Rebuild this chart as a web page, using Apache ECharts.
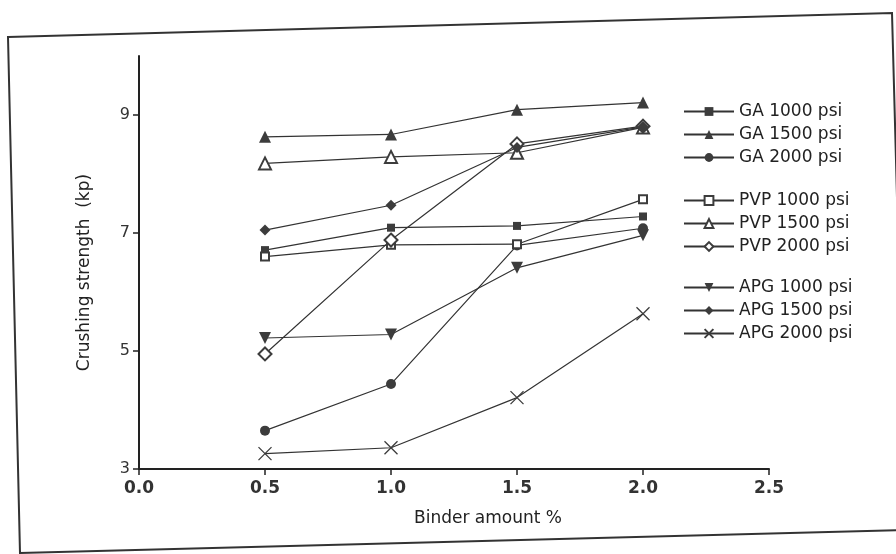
<!DOCTYPE html>
<html>
<head>
<meta charset="utf-8">
<script src="https://cdn.jsdelivr.net/npm/echarts@6/dist/echarts.min.js"></script>
<style>
html,body{margin:0;padding:0;background:#fff;}
#chart{width:896px;height:554px;}
</style>
</head>
<body>
<div id="chart"></div>
<script>
// Binder amount (%) on the x axis
const binder = [0.5, 1.0, 1.5, 2.0];
// Crushing strength (kp)
const ga1000  = [6.71, 7.09, 7.12, 7.28];
const ga1500  = [8.63, 8.67, 9.09, 9.21];
const ga2000  = [3.65, 4.44, 6.79, 7.08];
const pvp1000 = [6.60, 6.80, 6.81, 7.57];
const pvp1500 = [8.18, 8.29, 8.36, 8.79];
const pvp2000 = [4.95, 6.88, 8.51, 8.81];
const apg1000 = [5.22, 5.28, 6.41, 6.96];
const apg1500 = [7.05, 7.47, 8.45, 8.80];
const apg2000 = [3.26, 3.36, 4.21, 5.63];
const seriesNames = ['GA 1000 psi','GA 1500 psi','GA 2000 psi','PVP 1000 psi','PVP 1500 psi','PVP 2000 psi','APG 1000 psi','APG 1500 psi','APG 2000 psi'];
const yTickLabels = [3, 5, 7, 9];
const xTickLabels = [0, 0.5, 1.0, 1.5, 2.0, 2.5];

const values = [ga1000, ga1500, ga2000, pvp1000, pvp1500, pvp2000, apg1000, apg1500, apg2000];
const markers = [
  {symbol:'rect', size:8, rotate:0},
  {symbol:'triangle', size:12, rotate:0},
  {symbol:'circle', size:10, rotate:0},
  {symbol:'emptyRect', size:8, rotate:0},
  {symbol:'emptyTriangle', size:12, rotate:0},
  {symbol:'emptyDiamond', size:13, rotate:0},
  {symbol:'triangle', size:12, rotate:180},
  {symbol:'diamond', size:11, rotate:0},
  {symbol:'path://M0,0L10,10M10,0L0,10', size:13, rotate:0, cross:true}
];
const FONT = 'DejaVu Sans';
const INK = '#333';
const MARK = '#3c3c3c';

const series = seriesNames.map((name, i) => {
  const m = markers[i];
  return {
    name: name,
    type: 'line',
    data: binder.map((x, j) => [x, values[i][j]]),
    symbol: m.symbol,
    symbolSize: m.size,
    symbolRotate: m.rotate,
    showAllSymbol: true,
    lineStyle: {color: INK, width: 1.2},
    itemStyle: m.cross
      ? {color: 'rgba(0,0,0,0)', borderColor: MARK, borderWidth: 1.3}
      : {color: MARK, borderColor: MARK, borderWidth: m.symbol.indexOf('empty') === 0 ? 1.3 : 0},
    emphasis: {disabled: true},
    z: 3
  };
});

const legendBase = {
  orient: 'vertical',
  left: 683,
  padding: 0,
  itemWidth: 50,
  itemHeight: 11,
  itemGap: 6,
  selectedMode: false,
  textStyle: {fontFamily: FONT, fontSize: 17, color: '#222', lineHeight: 17}
};

const chart = echarts.init(document.getElementById('chart'), null, {renderer: 'canvas'});
chart.setOption({
  backgroundColor: '#fff',
  animation: false,
  grid: {left: 139, right: 127, top: 56, bottom: 85},
  legend: [
    Object.assign({}, legendBase, {top: 103, data: seriesNames.slice(0, 3)}),
    Object.assign({}, legendBase, {top: 192, data: seriesNames.slice(3, 6)}),
    Object.assign({}, legendBase, {top: 279, data: seriesNames.slice(6, 9)})
  ],
  xAxis: {
    type: 'value',
    min: 0, max: 2.5, interval: 0.5,
    name: 'Binder amount %',
    nameLocation: 'middle',
    nameGap: 41,
    nameTextStyle: {fontFamily: FONT, fontSize: 17, color: '#222', padding: [0, 0, 0, 68]},
    axisLine: {onZero: false, lineStyle: {color: '#222', width: 2}},
    axisTick: {show: true, inside: false, length: 6, lineStyle: {color: '#222', width: 1.5}, customValues: xTickLabels},
    axisLabel: {fontFamily: FONT, fontSize: 17, fontWeight: 'bold', color: '#333', margin: 11,
      customValues: xTickLabels, formatter: v => Number(v).toFixed(1)},
    splitLine: {show: false}
  },
  yAxis: {
    type: 'value',
    min: 3, max: 10, interval: 1,
    name: 'Crushing strength  (kp)',
    nameLocation: 'middle',
    nameGap: 46,
    nameTextStyle: {fontFamily: FONT, fontSize: 17, color: '#222', padding: [0, 20, 0, 0]},
    axisLine: {show: true, onZero: false, lineStyle: {color: '#222', width: 2}},
    axisTick: {show: true, inside: false, length: 6, lineStyle: {color: '#222', width: 1.5}, customValues: yTickLabels},
    axisLabel: {fontFamily: FONT, fontSize: 16, color: '#333', margin: 9, customValues: yTickLabels},
    splitLine: {show: false}
  },
  graphic: [{
    type: 'polygon',
    silent: true,
    shape: {points: [[8, 37], [892, 13], [906, 530], [20, 553]]},
    style: {fill: 'none', stroke: '#333', lineWidth: 2},
    z: 0
  }],
  series: series
});
</script>
</body>
</html>
